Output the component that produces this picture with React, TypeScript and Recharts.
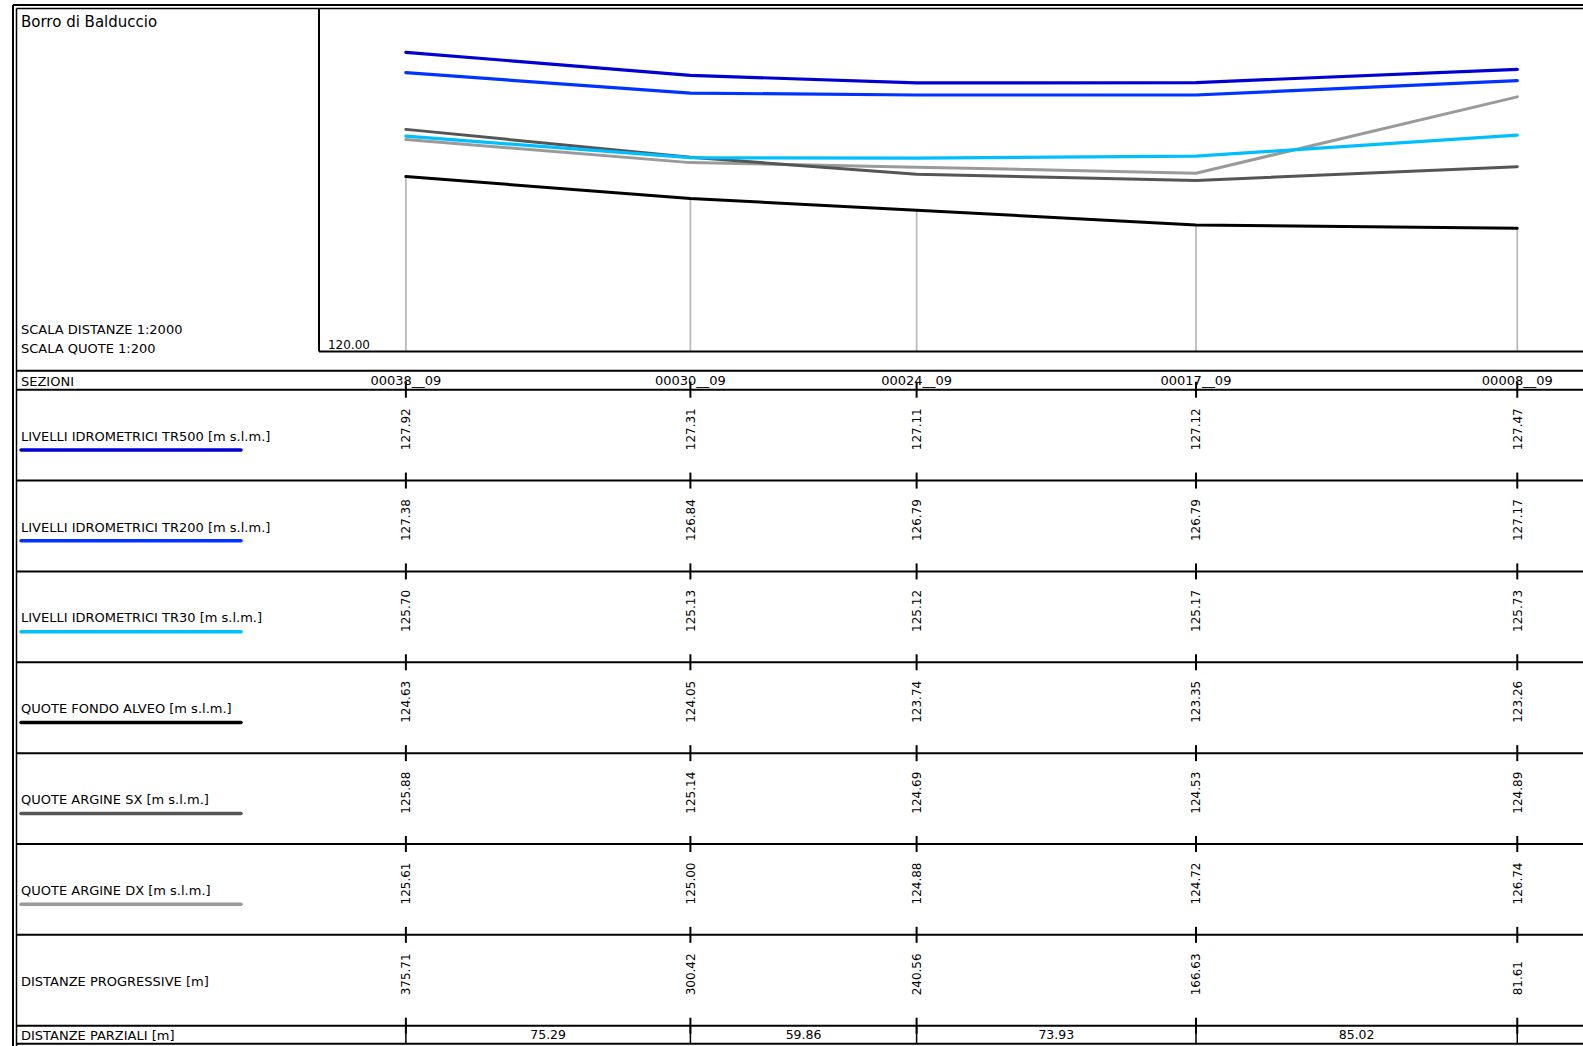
import React from 'react';
import { LineChart, Line, XAxis, YAxis, ReferenceLine } from 'recharts';

// ---------- data ----------
const sections = ['00038__09', '00030__09', '00024__09', '00017__09', '00008__09'];
const progressive = [375.71, 300.42, 240.56, 166.63, 81.61];
const partial = [75.29, 59.86, 73.93, 85.02];
const tr500 = [127.92, 127.31, 127.11, 127.12, 127.47];
const tr200 = [127.38, 126.84, 126.79, 126.79, 127.17];
const tr30 = [125.7, 125.13, 125.12, 125.17, 125.73];
const fondo = [124.63, 124.05, 123.74, 123.35, 123.26];
const argineSx = [125.88, 125.14, 124.69, 124.53, 124.89];
const argineDx = [125.61, 125.0, 124.88, 124.72, 126.74];
const yTicks = [120];

const title = 'Borro di Balduccio';
const scaleLabels = ['SCALA DISTANZE 1:2000', 'SCALA QUOTE 1:200'];

// ---------- styles / layout ----------
const FONT = '"DejaVu Sans", Verdana, sans-serif';
const C_TR500 = '#0000D2';
const C_TR200 = '#0033FF';
const C_TR30 = '#00BFFF';
const C_FONDO = '#000000';
const C_SX = '#555555';
const C_DX = '#9A9A9A';

const rows = [
  { label: 'LIVELLI IDROMETRICI TR500 [m s.l.m.]', values: tr500, color: C_TR500 },
  { label: 'LIVELLI IDROMETRICI TR200 [m s.l.m.]', values: tr200, color: C_TR200 },
  { label: 'LIVELLI IDROMETRICI TR30 [m s.l.m.]', values: tr30, color: C_TR30 },
  { label: 'QUOTE FONDO ALVEO [m s.l.m.]', values: fondo, color: C_FONDO },
  { label: 'QUOTE ARGINE SX [m s.l.m.]', values: argineSx, color: C_SX },
  { label: 'QUOTE ARGINE DX [m s.l.m.]', values: argineDx, color: C_DX },
  { label: 'DISTANZE PROGRESSIVE [m]', values: progressive, color: null as string | null },
];

const PAGE_W = 1583;
const PAGE_H = 1046;
const Y_AXIS_W = 10;
const PLOT_LEFT = 319;
const PLOT_TOP = 8.5;
const PLOT_BOTTOM = 351.5;
const PX_PER_M = 3.779;
const D_LEFT = 398.7;
const D_RIGHT = 30;
const CHART_W = PLOT_LEFT + (D_LEFT - D_RIGHT) * PX_PER_M;
const Y_MIN = 120;
const Y_MAX = 129.08;

const SEZ_TOP = 370.7;
const ROW0 = 389.7;
const ROW_H = 90.86;
const PAR_TOP = ROW0 + rows.length * ROW_H;
const PAR_BOTTOM = 1043.7;
const rowTop = (k: number) => ROW0 + k * ROW_H;

const data = progressive.map((d, i) => ({
  d,
  tr500: tr500[i],
  tr200: tr200[i],
  tr30: tr30[i],
  fondo: fondo[i],
  sx: argineSx[i],
  dx: argineDx[i],
}));

const mids = partial.map((_, i) => (progressive[i] + progressive[i + 1]) / 2);
const xTicks = [...progressive, ...mids].sort((a, b) => b - a);

const near = (a: number, b: number) => Math.abs(a - b) < 1e-6;

const ColumnTick = (props: any) => {
  const { x, payload } = props;
  const v = payload.value as number;
  const si = progressive.findIndex((p) => near(p, v));
  if (si >= 0) {
    return (
      <g fontFamily={FONT} fill="#000">
        <text x={x} y={385} textAnchor="middle" fontSize={13} fill="#000">
          {sections[si]}
        </text>
        <line x1={x} x2={x} y1={ROW0 - 8} y2={ROW0 + 8} stroke="#000" strokeWidth={2} />
        {rows.map((r, k) => {
          const top = rowTop(k);
          return (
            <g key={k}>
              <text
                transform={`translate(${x},${top + 60.5}) rotate(-90)`}
                textAnchor="start"
                dy="0.36em"
                fontSize={12}
                fill="#000"
              >
                {r.values[si].toFixed(2)}
              </text>
              <line x1={x} x2={x} y1={top + ROW_H - 8} y2={top + ROW_H + 8} stroke="#000" strokeWidth={2} />
            </g>
          );
        })}
        <line x1={x} x2={x} y1={PAR_TOP} y2={PAR_BOTTOM} stroke="#000" strokeWidth={1.5} />
      </g>
    );
  }
  const mi = mids.findIndex((m) => near(m, v));
  if (mi >= 0) {
    return (
      <text x={x} y={1039.5} textAnchor="middle" fontSize={12.5} fontFamily={FONT} fill="#000">
        {partial[mi].toFixed(2)}
      </text>
    );
  }
  return <g />;
};

const YTick = (props: any) => {
  const { y, payload } = props;
  return (
    <text x={PLOT_LEFT + 9} y={y - 2.5} fontSize={12} fontFamily={FONT} fill="#000">
      {Number(payload.value).toFixed(2)}
    </text>
  );
};

const hLines = [SEZ_TOP, ...rows.map((_, k) => rowTop(k)), PAR_TOP, PAR_BOTTOM];

export default function App() {
  return (
    <div
      style={{
        position: 'absolute',
        left: 0,
        top: 0,
        width: PAGE_W,
        height: PAGE_H,
        overflow: 'hidden',
        background: '#fff',
      }}
    >
      <LineChart
        width={CHART_W}
        height={PAGE_H}
        data={data}
        margin={{ top: PLOT_TOP, right: 0, bottom: 0, left: PLOT_LEFT - Y_AXIS_W }}
      >
        <XAxis
          dataKey="d"
          type="number"
          domain={[D_RIGHT, D_LEFT]}
          reversed
          allowDataOverflow
          ticks={xTicks}
          interval={0}
          tickLine={false}
          tickSize={0}
          tickMargin={0}
          height={PAGE_H - PLOT_BOTTOM}
          axisLine={{ stroke: '#000', strokeWidth: 2 }}
          tick={ColumnTick}
        />
        <YAxis
          type="number"
          domain={[Y_MIN, Y_MAX]}
          allowDataOverflow
          ticks={yTicks}
          width={Y_AXIS_W}
          tickLine={false}
          tickSize={0}
          axisLine={{ stroke: '#000', strokeWidth: 2 }}
          tick={YTick}
        />
        {progressive.map((d, i) => (
          <ReferenceLine
            key={'v' + i}
            segment={[
              { x: d, y: Y_MIN },
              { x: d, y: fondo[i] },
            ]}
            stroke="#B8B8B8"
            strokeWidth={1.7}
          />
        ))}
        <Line type="linear" dataKey="dx" stroke={C_DX} strokeWidth={3} dot={false} activeDot={false} isAnimationActive={false} strokeLinecap="round" strokeLinejoin="round" />
        <Line type="linear" dataKey="sx" stroke={C_SX} strokeWidth={3} dot={false} activeDot={false} isAnimationActive={false} strokeLinecap="round" strokeLinejoin="round" />
        <Line type="linear" dataKey="fondo" stroke={C_FONDO} strokeWidth={3} dot={false} activeDot={false} isAnimationActive={false} strokeLinecap="round" strokeLinejoin="round" />
        <Line type="linear" dataKey="tr30" stroke={C_TR30} strokeWidth={3.2} dot={false} activeDot={false} isAnimationActive={false} strokeLinecap="round" strokeLinejoin="round" />
        <Line type="linear" dataKey="tr200" stroke={C_TR200} strokeWidth={3.2} dot={false} activeDot={false} isAnimationActive={false} strokeLinecap="round" strokeLinejoin="round" />
        <Line type="linear" dataKey="tr500" stroke={C_TR500} strokeWidth={3.2} dot={false} activeDot={false} isAnimationActive={false} strokeLinecap="round" strokeLinejoin="round" />
      </LineChart>
      <svg
        width={PAGE_W}
        height={PAGE_H}
        style={{ position: 'absolute', left: 0, top: 0, pointerEvents: 'none' }}
        fontFamily={FONT}
      >
        {/* outer double frame */}
        <line x1={13} x2={13} y1={5} y2={PAGE_H} stroke="#000" strokeWidth={2} />
        <line x1={13} x2={PAGE_W} y1={5} y2={5} stroke="#000" strokeWidth={2} />
        <line x1={16.5} x2={16.5} y1={8.5} y2={PAGE_H} stroke="#000" strokeWidth={1.5} />
        <line x1={16.5} x2={PAGE_W} y1={8.5} y2={8.5} stroke="#000" strokeWidth={1.5} />
        {/* table lines */}
        {hLines.map((y, i) => (
          <line key={i} x1={16.5} x2={PAGE_W} y1={y} y2={y} stroke="#000" strokeWidth={2} />
        ))}
        {/* texts */}
        <text x={21} y={27} fontSize={15} fill="#000">{title}</text>
        <text x={21} y={334} fontSize={13} fill="#000">{scaleLabels[0]}</text>
        <text x={21} y={352.5} fontSize={13} fill="#000">{scaleLabels[1]}</text>
        <text x={21} y={386} fontSize={13} fill="#000">SEZIONI</text>
        {rows.map((r, k) => (
          <g key={k}>
            <text x={21} y={rowTop(k) + 51} fontSize={13} fill="#000">{r.label}</text>
            {r.color && (
              <line
                x1={21}
                x2={241}
                y1={rowTop(k) + 60.3}
                y2={rowTop(k) + 60.3}
                stroke={r.color}
                strokeWidth={3.5}
                strokeLinecap="round"
              />
            )}
          </g>
        ))}
        <text x={21} y={1039.5} fontSize={13} fill="#000">DISTANZE PARZIALI [m]</text>
      </svg>
    </div>
  );
}
